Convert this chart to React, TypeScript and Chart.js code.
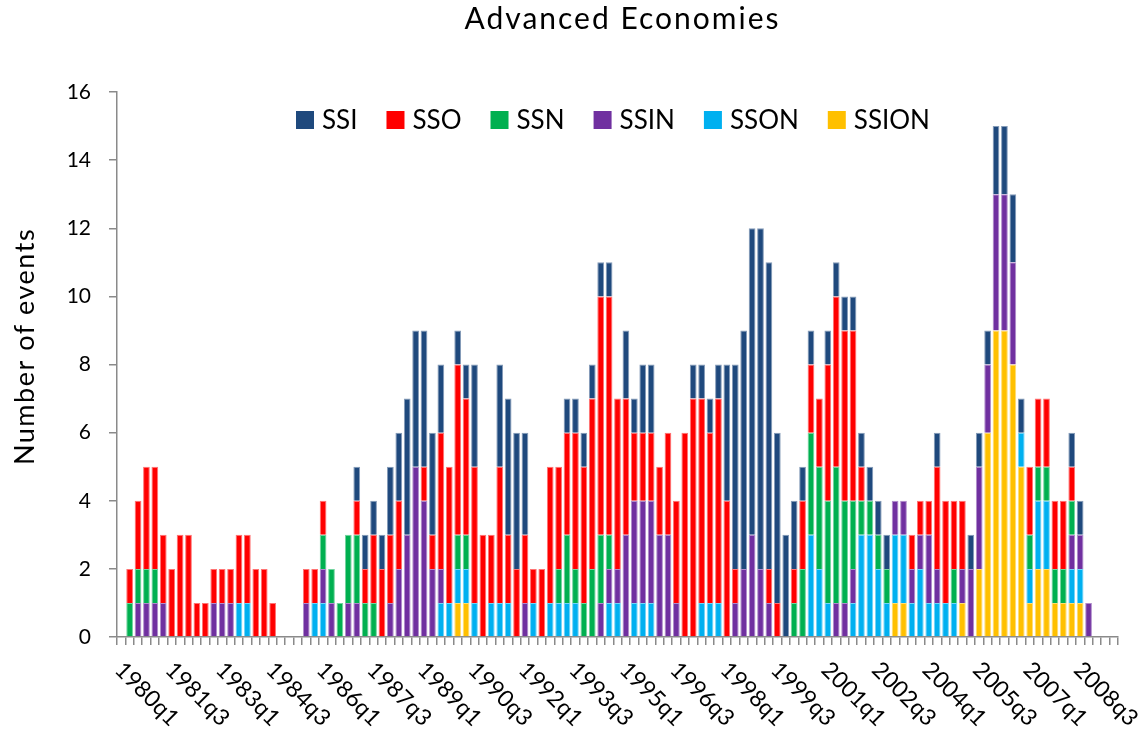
import React, { useEffect, useRef } from 'react';
import { Chart, registerables } from 'chart.js';

Chart.register(...registerables);

const FONT = 'Lato, "Open Sans", sans-serif';
const TITLE = 'Advanced Economies';
const Y_TITLE = 'Number of events';

// quarters 1980q1 .. 2009q3
const FIRST_YEAR = 1980;
const QUARTER_COUNT = 119;
const CATEGORIES: string[] = [];
for (let i = 0; i < QUARTER_COUNT; i++) {
  CATEGORIES.push(`${FIRST_YEAR + Math.floor(i / 4)}q${(i % 4) + 1}`);
}

const TICK_LABELS = [
  '1980q1', '1981q3', '1983q1', '1984q3', '1986q1', '1987q3', '1989q1', '1990q3', '1992q1', '1993q3',
  '1995q1', '1996q3', '1998q1', '1999q3', '2001q1', '2002q3', '2004q1', '2005q3', '2007q1', '2008q3',
];

const Y_TICKS = [0, 2, 4, 6, 8, 10, 12, 14, 16];

// values per quarter (1980q1 .. 2009q3), rows of 10 quarters
const SSI = [
  0, 0, 0, 0, 0, 0, 0, 0, 0, 0,
  0, 0, 0, 0, 0, 0, 0, 0, 0, 0,
  0, 0, 0, 0, 0, 0, 0, 0, 1, 1,
  1, 1, 2, 2, 4, 4, 4, 3, 2, 0,
  1, 1, 3, 0, 0, 3, 4, 4, 3, 0,
  0, 0, 0, 1, 1, 1, 1, 1, 1, 0,
  2, 1, 2, 2, 0, 0, 0, 0, 1, 1,
  1, 1, 4, 6, 7, 9, 10, 9, 5, 3,
  2, 1, 1, 0, 1, 1, 1, 1, 1, 1,
  1, 1, 0, 0, 0, 0, 0, 1, 0, 0,
  0, 1, 1, 1, 2, 2, 2, 1, 0, 0,
  0, 0, 0, 1, 1, 0, 0, 0, 0,
];

const SSO = [
  0, 1, 2, 3, 3, 2, 2, 3, 3, 1,
  1, 1, 1, 1, 2, 2, 2, 2, 1, 0,
  0, 0, 1, 1, 1, 0, 0, 0, 1, 1,
  2, 2, 2, 2, 0, 0, 1, 1, 4, 4,
  5, 4, 4, 3, 2, 4, 2, 2, 2, 1,
  2, 4, 3, 3, 4, 4, 5, 7, 7, 5,
  4, 2, 2, 2, 2, 3, 3, 6, 7, 6,
  5, 6, 4, 1, 0, 0, 0, 1, 1, 0,
  1, 2, 2, 2, 4, 5, 5, 5, 1, 0,
  0, 0, 0, 0, 1, 1, 1, 3, 3, 2,
  2, 0, 0, 0, 0, 0, 0, 0, 2, 2,
  2, 2, 2, 1, 0, 0, 0, 0, 0,
];

const SSN = [
  0, 1, 1, 1, 1, 0, 0, 0, 0, 0,
  0, 0, 0, 0, 0, 0, 0, 0, 0, 0,
  0, 0, 0, 0, 1, 1, 1, 2, 2, 1,
  1, 0, 0, 0, 0, 0, 0, 0, 0, 0,
  1, 1, 0, 0, 0, 0, 0, 0, 0, 0,
  0, 0, 1, 2, 1, 1, 2, 2, 1, 0,
  0, 0, 0, 0, 0, 0, 0, 0, 0, 0,
  0, 0, 0, 0, 0, 0, 0, 0, 0, 0,
  1, 2, 3, 3, 3, 4, 3, 2, 1, 1,
  1, 1, 0, 0, 0, 0, 0, 0, 0, 1,
  0, 0, 0, 0, 0, 0, 0, 0, 1, 1,
  1, 1, 1, 1, 0, 0, 0, 0, 0,
];

const SSIN = [
  0, 0, 1, 1, 1, 1, 0, 0, 0, 0,
  0, 1, 1, 1, 0, 0, 0, 0, 0, 0,
  0, 0, 1, 0, 1, 1, 0, 1, 1, 0,
  0, 0, 1, 2, 3, 5, 4, 2, 1, 0,
  0, 0, 0, 0, 0, 0, 0, 0, 1, 0,
  0, 0, 0, 0, 0, 0, 0, 1, 1, 1,
  3, 3, 3, 3, 3, 3, 1, 0, 0, 0,
  0, 0, 0, 1, 2, 3, 2, 1, 0, 0,
  0, 0, 0, 0, 0, 1, 1, 1, 0, 0,
  0, 0, 1, 1, 1, 1, 2, 1, 0, 0,
  1, 2, 3, 2, 4, 4, 3, 0, 0, 0,
  0, 0, 0, 1, 1, 1, 0, 0, 0,
];

const SSON = [
  0, 0, 0, 0, 0, 0, 0, 0, 0, 0,
  0, 0, 0, 0, 1, 1, 0, 0, 0, 0,
  0, 0, 0, 1, 1, 0, 0, 0, 0, 0,
  0, 0, 0, 0, 0, 0, 0, 0, 1, 1,
  1, 1, 1, 0, 1, 1, 1, 0, 0, 1,
  0, 1, 1, 1, 1, 0, 0, 0, 1, 1,
  0, 1, 1, 1, 0, 0, 0, 0, 0, 1,
  1, 1, 0, 0, 0, 0, 0, 0, 0, 0,
  0, 0, 3, 2, 1, 0, 0, 1, 3, 3,
  2, 1, 2, 2, 1, 2, 1, 1, 1, 1,
  0, 0, 0, 0, 0, 0, 0, 1, 1, 2,
  2, 0, 0, 1, 1, 0, 0, 0, 0,
];

const SSION = [
  0, 0, 0, 0, 0, 0, 0, 0, 0, 0,
  0, 0, 0, 0, 0, 0, 0, 0, 0, 0,
  0, 0, 0, 0, 0, 0, 0, 0, 0, 0,
  0, 0, 0, 0, 0, 0, 0, 0, 0, 0,
  1, 1, 0, 0, 0, 0, 0, 0, 0, 0,
  0, 0, 0, 0, 0, 0, 0, 0, 0, 0,
  0, 0, 0, 0, 0, 0, 0, 0, 0, 0,
  0, 0, 0, 0, 0, 0, 0, 0, 0, 0,
  0, 0, 0, 0, 0, 0, 0, 0, 0, 0,
  0, 0, 1, 1, 0, 0, 0, 0, 0, 0,
  1, 0, 2, 6, 9, 9, 8, 5, 1, 2,
  2, 1, 1, 1, 1, 0, 0, 0, 0,
];

// legend order (top of stack first)
const SERIES_NAMES = ['SSI', 'SSO', 'SSN', 'SSIN', 'SSON', 'SSION'];
const SERIES_VALUES = [SSI, SSO, SSN, SSIN, SSON, SSION];
const SERIES_COLORS = ['#1F497D', '#FF0000', '#00B050', '#7030A0', '#00B0F0', '#FFC000'];

function tint(hex: string, amt: number): string {
  const n = parseInt(hex.slice(1), 16);
  const r = (n >> 16) & 255, g = (n >> 8) & 255, b = n & 255;
  const m = (c: number) => Math.round(c + (255 - c) * amt);
  return `rgb(${m(r)},${m(g)},${m(b)})`;
}

const AXIS_COLOR = '#8A8A8A';

const decorPlugin = {
  id: 'decor',
  afterDraw(chart: any) {
    const { ctx, chartArea, scales } = chart;
    const xs = scales.x;
    ctx.save();
    ctx.fillStyle = '#000';

    // title
    ctx.save();
    ctx.font = `30px ${FONT}`;
    (ctx as any).letterSpacing = '2px';
    ctx.textAlign = 'center';
    ctx.textBaseline = 'alphabetic';
    ctx.fillText(TITLE, 622.5, 28.5);
    ctx.restore();

    // legend
    ctx.font = `26px ${FONT}`;
    ctx.textAlign = 'left';
    ctx.textBaseline = 'alphabetic';
    let lx = 296;
    const order = [...chart.data.datasets].reverse();
    for (const ds of order) {
      ctx.fillStyle = ds.backgroundColor;
      ctx.fillRect(lx, 111, 18, 18);
      ctx.fillStyle = '#000';
      ctx.fillText(ds.label, lx + 26, 129);
      lx += 26 + ctx.measureText(ds.label).width + 29;
    }

    // y axis title
    ctx.save();
    ctx.font = `27px ${FONT}`;
    (ctx as any).letterSpacing = '1.5px';
    ctx.translate(33.5, 346.5);
    ctx.rotate(-Math.PI / 2);
    ctx.textAlign = 'center';
    ctx.textBaseline = 'alphabetic';
    ctx.fillText(Y_TITLE, 0, 0);
    ctx.restore();

    // x tick labels, rotated clockwise
    ctx.font = `23px ${FONT}`;
    ctx.textAlign = 'left';
    ctx.textBaseline = 'middle';
    for (const lab of TICK_LABELS) {
      const idx = CATEGORIES.indexOf(lab);
      if (idx < 0) continue;
      const px = xs.getPixelForValue(idx);
      ctx.save();
      ctx.translate(px - 2.5, chartArea.bottom + 29);
      ctx.rotate(Math.PI / 4);
      ctx.fillText(lab, 0, 0);
      ctx.restore();
    }
    ctx.restore();
  },
};

export default function App() {
  const ref = useRef<HTMLCanvasElement | null>(null);

  useEffect(() => {
    document.body.style.margin = '0';
    const canvas = ref.current;
    if (!canvas) return;
    const datasets = SERIES_NAMES.map((name, i) => ({
      label: name,
      data: SERIES_VALUES[i],
      backgroundColor: SERIES_COLORS[i],
      borderColor: tint(SERIES_COLORS[i], 0.45),
      borderWidth: 1,
      barPercentage: 0.8,
      categoryPercentage: 1.0,
    })).reverse(); // bottom of stack first

    const chart = new Chart(canvas, {
      type: 'bar',
      data: { labels: CATEGORIES, datasets },
      options: {
        responsive: false,
        animation: false,
        devicePixelRatio: 1,
        layout: { padding: { left: 0, right: 28, top: 92, bottom: 0 } },
        plugins: {
          legend: { display: false },
          title: { display: false },
          tooltip: { enabled: false },
        },
        scales: {
          x: {
            stacked: true,
            offset: true,
            grid: {
              display: true,
              offset: true,
              drawOnChartArea: false,
              drawTicks: true,
              tickLength: 8,
              color: AXIS_COLOR,
              lineWidth: 1.5,
            },
            border: { display: true, color: AXIS_COLOR, width: 1.5 },
            ticks: { display: false, autoSkip: false },
            afterFit: (s: any) => { s.height = 97; },
          },
          y: {
            stacked: true,
            min: 0,
            max: 16,
            afterBuildTicks: (s: any) => { s.ticks = Y_TICKS.map((v) => ({ value: v })); },
            grid: {
              display: true,
              drawOnChartArea: false,
              drawTicks: true,
              tickLength: 8,
              color: AXIS_COLOR,
              lineWidth: 1.5,
            },
            border: { display: true, color: AXIS_COLOR, width: 1.5 },
            ticks: {
              color: '#000',
              padding: 18,
              font: { family: FONT, size: 21 },
            },
            afterFit: (s: any) => { s.width = 117; },
          },
        },
      },
      plugins: [decorPlugin],
    });
    return () => chart.destroy();
  }, []);

  return (
    <div style={{ width: 1146, height: 734 }}>
      <canvas ref={ref} width={1146} height={734} style={{ display: 'block' }} />
    </div>
  );
}
